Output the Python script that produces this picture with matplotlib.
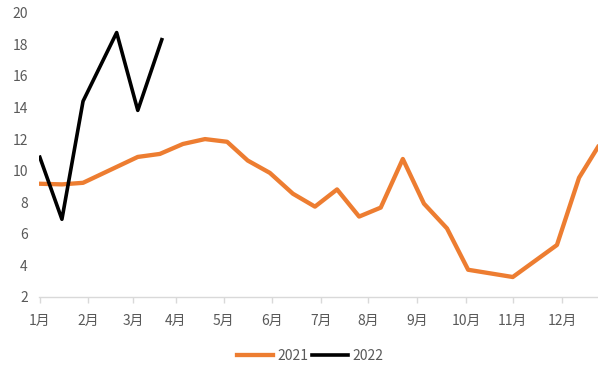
import matplotlib
matplotlib.use('AGG')
import matplotlib.pyplot as plt

plt.rcParams['font.family'] = ['Noto Sans CJK SC', 'DejaVu Sans']

months = ['1月', '2月', '3月', '4月', '5月', '6月', '7月', '8月', '9月', '10月', '11月', '12月']
# month ticks are not evenly spaced in the original (date axis)
month_pos = [0, 1.0, 1.94, 2.83, 3.83, 4.83, 5.85, 6.83, 7.85, 8.875, 9.85, 10.875]

x_2021 = [0.0, 0.46, 0.90, 2.04, 2.50, 2.98, 3.44, 3.90, 4.33, 4.79, 5.27, 5.73,
          6.19, 6.65, 7.10, 7.56, 8.0, 8.48, 8.92, 9.85, 10.77, 11.23, 11.625]
y_2021 = [9.17, 9.13, 9.23, 10.87, 11.06, 11.69, 12.0, 11.83, 10.64, 9.86, 8.54, 7.72,
          8.81, 7.09, 7.66, 10.74, 7.91, 6.34, 3.72, 3.26, 5.29, 9.55, 11.5]

x_2022 = [0.0, 0.46, 0.90, 1.60, 2.04, 2.54]
y_2022 = [10.85, 6.92, 14.4, 18.75, 13.82, 18.3]

fig = plt.figure(figsize=(5.98, 3.67), dpi=100)
ax = fig.add_axes([0.065, 0.191, 0.935, 0.774])

ax.plot(x_2021, y_2021, color='#ED7D31', linewidth=3.1, label='2021')
ax.plot(x_2022, y_2022, color='#000000', linewidth=2.6, label='2022')

ax.set_xlim(-0.02, 11.625)
ax.set_ylim(2, 20)
ax.set_yticks(range(2, 21, 2))
ax.set_xticks(month_pos)
ax.set_xticklabels(months)

for s in ['top', 'right', 'left']:
    ax.spines[s].set_visible(False)
ax.spines['bottom'].set_color('#d9d9d9')
ax.spines['bottom'].set_linewidth(1.0)

ax.tick_params(axis='y', length=0, pad=8, labelsize=10, labelcolor='#595959')
ax.tick_params(axis='x', length=4, width=1, color='#d9d9d9', pad=8, labelsize=10, labelcolor='#595959')

leg = ax.legend(loc='center', bbox_to_anchor=(0.485, -0.208), ncol=2, frameon=False,
                fontsize=10, handlelength=2.6, columnspacing=0.3, handletextpad=0.3)
for t in leg.get_texts():
    t.set_color('#595959')

plt.savefig('out.png', dpi=100)
